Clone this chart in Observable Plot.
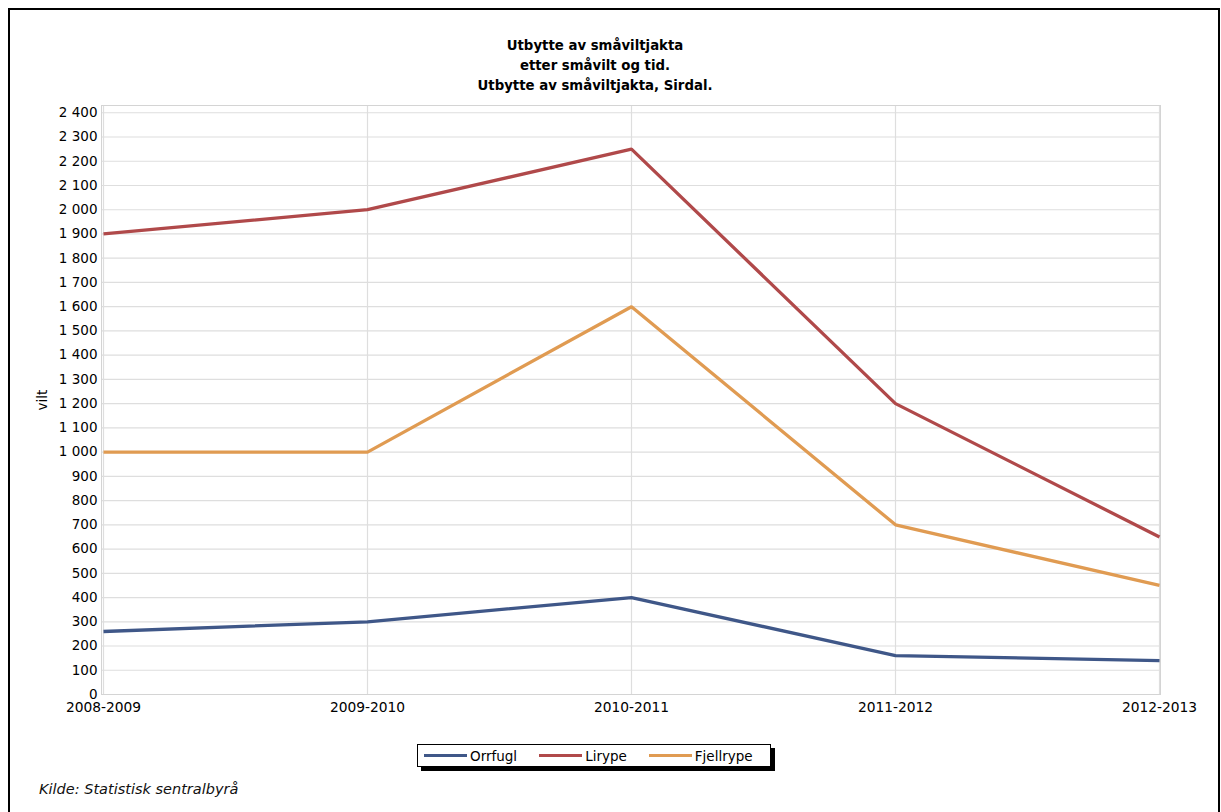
<!DOCTYPE html>
<html>
<head>
<meta charset="utf-8">
<script src="https://cdn.jsdelivr.net/npm/d3@7"></script>
<script src="https://cdn.jsdelivr.net/npm/@observablehq/plot@0.6"></script>
<style>
  html, body { margin: 0; padding: 0; background: #fff; }
  #page { position: relative; width: 1221px; height: 812px; overflow: hidden; font-family: "Liberation Sans", Arial, sans-serif; }
  #border { position: absolute; left: 8px; top: 8px; width: 1208px; height: 820px; border: 2px solid #000; }
  #title { position: absolute; left: 395px; width: 400px; top: 36px; text-align: center; font-family: "DejaVu Sans", sans-serif; font-weight: bold; font-size: 13.3px; line-height: 20px; color: #000; }
  #chart { position: absolute; left: 0; top: 0; }
  #legend { position: absolute; left: 417px; top: 744px; width: 352px; height: 21px; border: 1px solid #000; background: #fff; box-shadow: 4px 4px 0 #000; display: flex; align-items: center; font-family: "DejaVu Sans", sans-serif; font-size: 13.5px; }
  .item { display: flex; align-items: center; margin-left: 6px; }
  .sw { display: inline-block; width: 43px; height: 3px; margin-right: 3px; }
  #caption { position: absolute; left: 39px; top: 781px; font-family: "DejaVu Sans", sans-serif; font-style: italic; font-size: 14.5px; color: #111; }
</style>
</head>
<body>
<div id="page">
  <div id="border"></div>
  <div id="title">Utbytte av småviltjakta<br>etter småvilt og tid.<br>Utbytte av småviltjakta, Sirdal.</div>
  <div id="chart"></div>
  <div id="legend"></div>
  <div id="caption">Kilde: Statistisk sentralbyrå</div>
</div>
<script>
const periods = ["2008-2009", "2009-2010", "2010-2011", "2011-2012", "2012-2013"];
const seriesNames = ["Orrfugl", "Lirype", "Fjellrype"];
const seriesColors = ["#3f5788", "#b0494a", "#e09b52"];
const orrfugl = [260, 300, 400, 160, 140];
const lirype = [1900, 2000, 2250, 1200, 650];
const fjellrype = [1000, 1000, 1600, 700, 450];
const yTicks = [0, 100, 200, 300, 400, 500, 600, 700, 800, 900, 1000, 1100, 1200, 1300, 1400, 1500, 1600, 1700, 1800, 1900, 2000, 2100, 2200, 2300, 2400];
const yLabel = "vilt";

const valuesBySeries = [orrfugl, lirype, fjellrype];
const data = [];
seriesNames.forEach((s, i) => {
  periods.forEach((p, j) => data.push({series: s, period: p, value: valuesBySeries[i][j]}));
});

const fmt = d3.formatLocale({decimal: ",", thousands: " ", grouping: [3], currency: ["", ""]}).format(",");

const chart = Plot.plot({
  width: 1221,
  height: 740,
  marginLeft: 101,
  marginRight: 61,
  marginTop: 105,
  marginBottom: 46,
  style: {fontFamily: "DejaVu Sans, sans-serif", fontSize: "13.5px", color: "#000", background: "transparent"},
  x: {type: "point", domain: periods, padding: 0},
  y: {domain: [0, 2430]},
  color: {domain: seriesNames, range: seriesColors},
  marks: [
    Plot.gridY(yTicks, {stroke: "#dedede", strokeOpacity: 1, strokeWidth: 1.2}),
    Plot.gridX(periods, {stroke: "#dedede", strokeOpacity: 1, strokeWidth: 1.2}),
    Plot.frame({stroke: "#d4d4d4"}),
    Plot.axisY(yTicks, {tickSize: 0, tickPadding: 4, tickFormat: fmt, label: yLabel, labelAnchor: "center", labelOffset: 64, labelArrow: false, fontSize: 13.5}),
    Plot.axisX(periods, {tickSize: 0, tickPadding: 8, label: null, fontSize: 13.8}),
    Plot.line(data, {x: "period", y: "value", stroke: "series", z: "series", strokeWidth: 3.3, strokeLinejoin: "miter", strokeLinecap: "butt"})
  ]
});
document.getElementById("chart").appendChild(chart);

const legend = document.getElementById("legend");
seriesNames.forEach((s, i) => {
  const item = document.createElement("div");
  item.className = "item";
  if (i > 0) item.style.marginLeft = "22px";
  const sw = document.createElement("span");
  sw.className = "sw";
  sw.style.background = seriesColors[i];
  item.appendChild(sw);
  item.appendChild(document.createTextNode(s));
  legend.appendChild(item);
});
</script>
</body>
</html>
